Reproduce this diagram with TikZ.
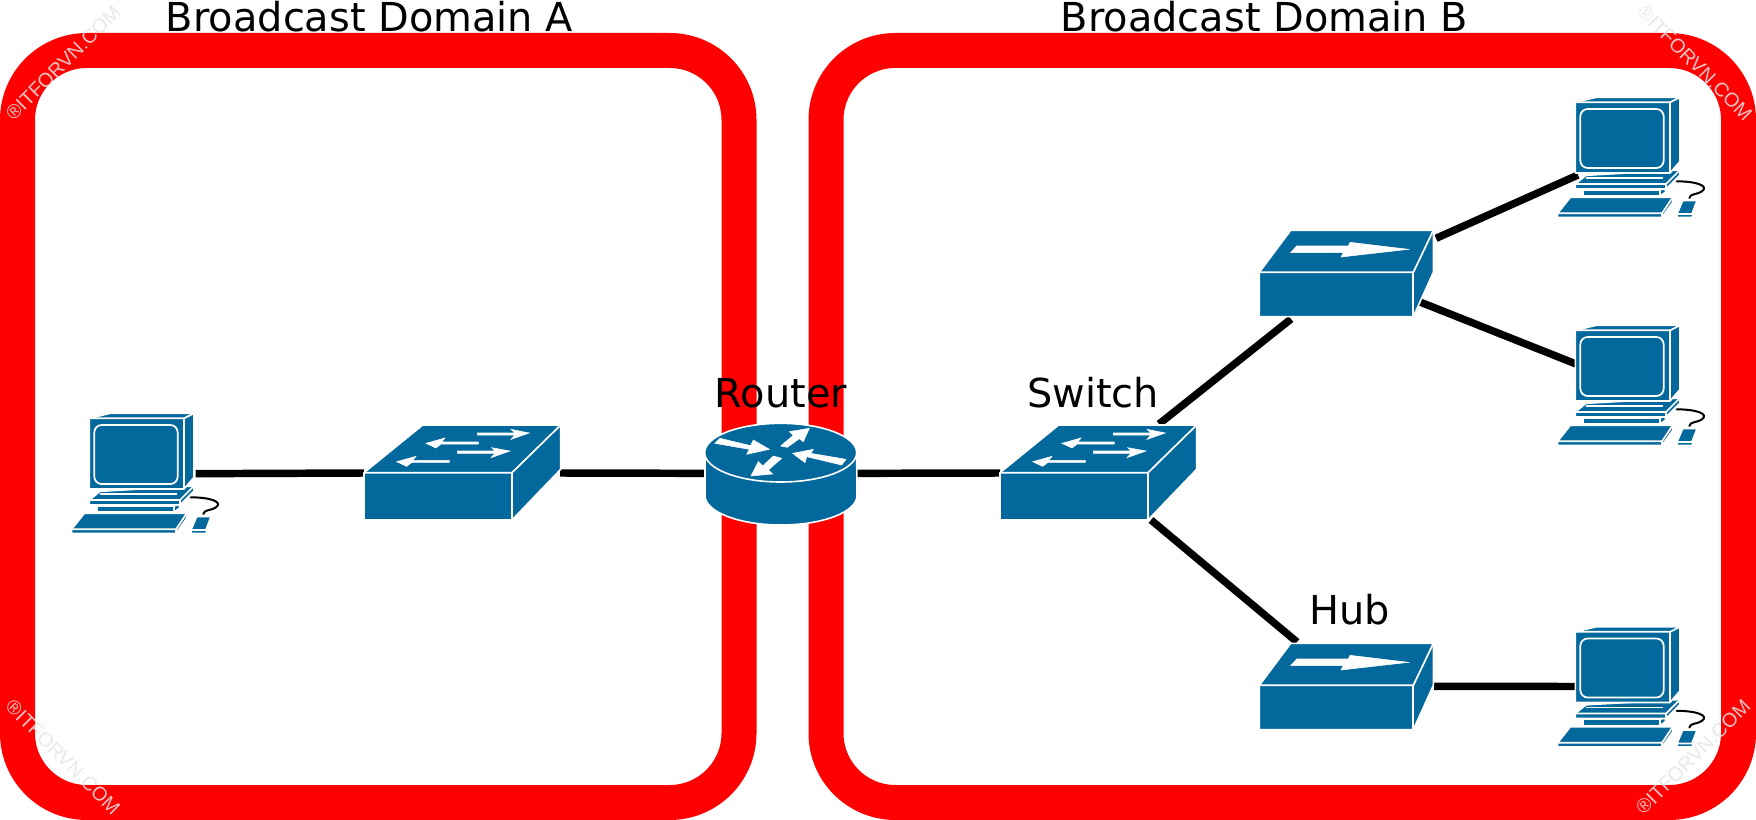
\documentclass[tikz,border=0pt]{standalone}
\usepackage{fontspec}
\setmainfont{DejaVu Sans}
\newfontfamily\wmfont{Liberation Sans}
\definecolor{devblue}{HTML}{03689B}
\tikzset{
  x=0.75pt,y=-0.75pt,
  domainbox/.style={draw=red,line width=26.25pt,rounded corners=52pt},
  wire/.style={draw=black,line width=5.6pt},
  dev/.style={fill=devblue,draw=white,line width=1.2pt,line join=round},
  mark line/.style={draw=white,line width=1.3pt},
  whitearrow/.style={fill=white,draw=white,line width=.4pt},
  title/.style={anchor=base,font=\fontsize{29.9pt}{36pt}\selectfont,text=black,inner sep=0pt},
  wmark/.style={font=\wmfont\fontsize{14.8pt}{16pt}\selectfont,text=white!90!black,text opacity=.85,inner sep=0pt},
  pics/pc/.style={code={
    \begin{scope}[x=.25pt,y=-.25pt]
      \coordinate (-e) at (437,251);
      \coordinate (-w) at (123,249);
      \coordinate (-wu) at (126,303);
      \coordinate (-wm) at (120,186);
      \draw[dev] (143,348) rectangle (372,366);
      \draw[dev] (372,348) -- (388,340) -- (388,355) -- (372,366) -- cycle;
      \draw[dev] (118,330) -- (150,304) -- (432,288) -- (432,303) -- (390,345) -- (118,345) -- cycle;
      \draw[mark line] (118,330) -- (390,330) -- (432,288);
      \draw[mark line] (390,330) -- (390,345);
      \draw[mark line] (150,312) -- (380,312);
      \draw[dev] (118,85) -- (180,70) -- (432,70) -- (432,262) -- (402,297) -- (118,297) -- cycle;
      \draw[mark line] (118,85) -- (402,85) -- (432,70);
      \draw[mark line] (402,85) -- (402,297);
      \draw[mark line,rounded corners=5.5pt] (133,105) rectangle (383,282);
      \draw[dev] (65,418) -- (103,370) -- (410,370) -- (410,385) -- (378,430) -- (65,430) -- cycle;
      \draw[mark line] (65,418) -- (378,418) -- (410,370);
      \draw[mark line] (378,418) -- (378,430);
      \draw[dev] (423,420) -- (440,380) -- (483,380) -- (483,392) -- (468,430) -- (423,430) -- cycle;
      \draw[mark line] (423,420) -- (468,420) -- (483,380);
      \draw[black,line width=1.5pt,line cap=round] (422,322) .. controls (480,322) and (520,335) .. (498,352) .. controls (485,362) and (462,358) .. (460,372);
    \end{scope}
  }},
  pics/switchbox/.style={code={
    \begin{scope}[x=.25pt,y=-.25pt]
      \coordinate (-w) at (72,219);
      \coordinate (-e) at (660,219);
      \coordinate (-ne) at (549,72);
      \coordinate (-se) at (525,360);
      \draw[dev] (72,218) -- (248,75) -- (662,75) -- (662,208) -- (516,360) -- (72,360) -- cycle;
      \draw[mark line] (72,218) -- (516,218) -- (662,75);
      \draw[mark line] (516,218) -- (516,360);
      \filldraw[whitearrow] (412,99) -- (525,99) -- (513,88) -- (568,99) -- (513,118) -- (525,105) -- (412,105) -- cycle;
      \filldraw[whitearrow] (415,126) -- (305,126) -- (315,114) -- (258,130) -- (288,144) -- (303,132) -- (415,132) -- cycle;
      \filldraw[whitearrow] (352,153) -- (465,153) -- (455,143) -- (510,153) -- (453,173) -- (465,160) -- (352,160) -- cycle;
      \filldraw[whitearrow] (328,181) -- (218,181) -- (228,169) -- (170,185) -- (200,199) -- (216,187) -- (328,187) -- cycle;
    \end{scope}
  }},
  pics/hubbox/.style={code={
    \begin{scope}[x=.25pt,y=-.25pt]
      \coordinate (-sw) at (153,312);
      \coordinate (-nw) at (171,42);
      \coordinate (-ne) at (588,70);
      \coordinate (-se) at (540,261);
      \coordinate (-e) at (582,175);
      \draw[dev] (58,172) -- (152,46) -- (580,46) -- (580,172) -- (520,305) -- (58,305) -- cycle;
      \draw[mark line] (58,172) -- (520,172) -- (580,46);
      \draw[mark line] (520,172) -- (520,305);
      \filldraw[whitearrow] (152,113) -- (170,93) -- (325,93) -- (330,82) -- (505,103) -- (303,126) -- (310,113) -- cycle;
    \end{scope}
  }},
  pics/routerbox/.style={code={
    \begin{scope}[x=.25pt,y=-.25pt]
      \coordinate (-w) at (45,340);
      \coordinate (-e) at (500,340);
      \draw[dev] (45,278) -- (45,407) arc[start angle=180,end angle=360,x radius=57pt,y radius=22pt] -- (500,278) -- cycle;
      \draw[dev] (272,278) ellipse [x radius=57pt,y radius=22pt];
      \filldraw[whitearrow] (90,235) -- (182,257) -- (190,240) -- (238,268) -- (170,283) -- (178,268) -- (75,250) -- cycle;
      \filldraw[whitearrow] (272,258) -- (310,226) -- (298,215) -- (358,205) -- (340,245) -- (328,236) -- (292,262) -- cycle;
      \filldraw[whitearrow] (468,298) -- (455,315) -- (350,290) -- (345,308) -- (308,280) -- (370,268) -- (362,280) -- cycle;
      \filldraw[whitearrow] (183,348) -- (205,305) -- (218,318) -- (250,288) -- (275,295) -- (235,330) -- (248,342) -- cycle;
    \end{scope}
  }},
}
\begin{document}
\begin{tikzpicture}
  \path[use as bounding box,fill=white] (0,0) rectangle (1756,820);
  \draw[domainbox] (17.5,50.5) rectangle (739,802.5);
  \draw[domainbox] (826,50.5) rectangle (1738.5,802.5);

  \node[wmark,rotate=45] (wmtl) at (63,63) {®ITFORVN.COM};
  \node[wmark,rotate=-45] (wmbl) at (63,757) {®ITFORVN.COM};
  \node[wmark,rotate=-45] (wmtr) at (1695,63) {®ITFORVN.COM};
  \node[wmark,rotate=45] (wmbr) at (1693,757) {®ITFORVN.COM};

  % device anchors first, so the wires can run underneath
  \begin{scope}[opacity=0]
    \pic (pc1) at (50,390) {pc};
    \pic (pc2) at (1536,74) {pc};
    \pic (pc3) at (1536,302) {pc};
    \pic (pc4) at (1536,603.5) {pc};
    \pic (sw1) at (340,400) {switchbox};
    \pic (sw2) at (976,400) {switchbox};
    \pic (hub1) at (1240,215) {hubbox};
    \pic (hub2) at (1240,628) {hubbox};
    \pic (rt) at (690,360) {routerbox};
  \end{scope}

  \draw[wire] (pc1-e) -- (sw1-w);
  \draw[wire] (sw1-e) -- (rt-w);
  \draw[wire] (rt-e) -- (sw2-w);
  \draw[wire] (sw2-ne) -- (hub1-sw);
  \draw[wire] (sw2-se) -- (hub2-nw);
  \draw[wire] (hub1-ne) -- (pc2-wu);
  \draw[wire] (hub1-se) -- (pc3-wm);
  \draw[wire] (hub2-e) -- (pc4-w);

  \pic (pc1d) at (50,390) {pc};
  \pic (pc2d) at (1536,74) {pc};
  \pic (pc3d) at (1536,302) {pc};
  \pic (pc4d) at (1536,603.5) {pc};
  \pic (sw1d) at (340,400) {switchbox};
  \pic (sw2d) at (976,400) {switchbox};
  \pic (hub1d) at (1240,215) {hubbox};
  \pic (hub2d) at (1240,628) {hubbox};
  \pic (rtd) at (690,360) {routerbox};

  \node[title] (ta) at (369.5,32) {Broadcast Domain A};
  \node[title] (tb) at (1264.5,32) {Broadcast Domain B};
  \node[title] (lr) at (781,407) {Router};
  \node[title] (ls) at (1093,407) {Switch};
  \node[title] (lh) at (1349.5,624) {Hub};
\end{tikzpicture}
\end{document}
